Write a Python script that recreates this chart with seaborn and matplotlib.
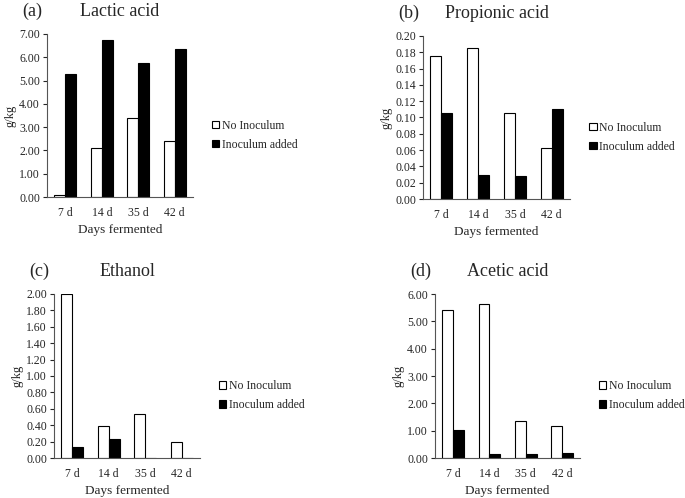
import pandas as pd
import numpy as np
import matplotlib
matplotlib.use("Agg")
import matplotlib.pyplot as plt
import seaborn as sns
from matplotlib.patches import Patch

days = ["7 d", "14 d", "35 d", "42 d"]
treatments = ["No Inoculum", "Inoculum added"]

lactic_no = [0.07, 2.10, 3.41, 2.39]
lactic_inoc = [5.29, 6.76, 5.75, 6.35]
propionic_no = [0.175, 0.185, 0.105, 0.063]
propionic_inoc = [0.105, 0.030, 0.028, 0.110]
ethanol_no = [2.00, 0.385, 0.535, 0.20]
ethanol_inoc = [0.14, 0.235, 0.0, 0.0]
acetic_no = [5.41, 5.63, 1.37, 1.16]
acetic_inoc = [1.02, 0.16, 0.16, 0.19]

panels = [
    ("(a)", "Lactic acid", lactic_no, lactic_inoc, 7.0, 1.0),
    ("(b)", "Propionic acid", propionic_no, propionic_inoc, 0.20, 0.02),
    ("(c)", "Ethanol", ethanol_no, ethanol_inoc, 2.0, 0.2),
    ("(d)", "Acetic acid", acetic_no, acetic_inoc, 6.0, 1.0),
]

# axes boxes in pixels: left, right, top, bottom
boxes = [(47, 193, 34, 197), (423, 570, 36, 199), (54, 200, 294, 458), (435, 580, 294, 458)]

sns.set_style("white")
plt.rcParams["font.family"] = ["Liberation Serif", "DejaVu Serif"]

W, H = 685, 498
fig = plt.figure(figsize=(W / 100, H / 100), dpi=100)

for (tag, title, no_vals, inoc_vals, ymax, step), (l, r, t, b) in zip(panels, boxes):
    ax = fig.add_axes([l / W, (H - b) / H, (r - l) / W, (b - t) / H])
    df = pd.DataFrame({
        "day": days * 2,
        "treatment": [treatments[0]] * 4 + [treatments[1]] * 4,
        "value": list(no_vals) + list(inoc_vals),
    })
    sns.barplot(data=df, x="day", y="value", hue="treatment", order=days,
                hue_order=treatments, palette=["white", "black"], width=0.6,
                edgecolor="black", linewidth=0.8, ax=ax, legend=False, errorbar=None)
    ax.set_ylim(0, ymax)
    ax.set_xlim(-0.5, 3.5)
    ax.set_yticks(np.arange(0, ymax + step / 2, step))
    ax.yaxis.set_major_formatter(matplotlib.ticker.FormatStrFormatter("%.2f"))
    ax.tick_params(axis="y", left=True, length=3, width=0.8, labelsize=8.5, pad=2)
    ax.tick_params(axis="x", bottom=False, labelsize=8.5, pad=4)
    ax.spines["top"].set_visible(False)
    ax.spines["right"].set_visible(False)
    for s in ["left", "bottom"]:
        ax.spines[s].set_color("#555555")
        ax.spines[s].set_linewidth(0.8)
    ax.set_xlabel("Days fermented", fontsize=9.5, labelpad=3)
    ax.set_ylabel("g/kg", fontsize=9, labelpad=2)
    ax.text(0.5, 1.085, title, transform=ax.transAxes, ha="center", va="bottom", fontsize=13)
    ax.text(-0.1, 1.085, tag, transform=ax.transAxes, ha="center", va="bottom", fontsize=13)
    handles = [Patch(facecolor="white", edgecolor="black", linewidth=0.8),
               Patch(facecolor="black", edgecolor="black", linewidth=0.8)]
    ax.legend(handles, treatments, loc="center left", bbox_to_anchor=(1.1, 0.38),
              frameon=False, fontsize=8.5, handlelength=0.6, handleheight=0.6,
              handletextpad=0.2, labelspacing=0.6, borderaxespad=0)

fig.savefig("out.png", dpi=100)
